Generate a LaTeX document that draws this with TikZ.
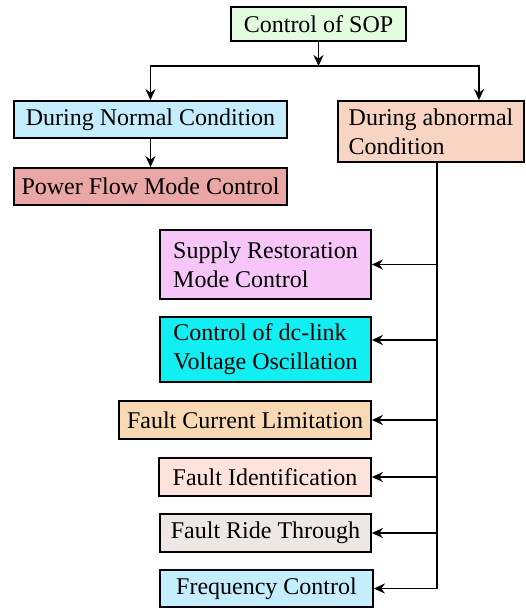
\documentclass[tikz,border=0pt]{standalone}
\usepackage{fontspec}
\setmainfont{Liberation Serif}
\usepackage{xcolor}
\usepackage{tikz}
\usetikzlibrary{positioning,calc,arrows.meta}

\definecolor{sopgreen}{HTML}{E3FCE0}
\definecolor{normalblue}{HTML}{C4EEFD}
\definecolor{flowred}{HTML}{EBA6A6}
\definecolor{abnpeach}{HTML}{F8D4C2}
\definecolor{supplypink}{HTML}{F5C6F7}
\definecolor{dccyan}{HTML}{12EFF2}
\definecolor{fclorange}{HTML}{F8D9B4}
\definecolor{fidpink}{HTML}{FEE3DC}
\definecolor{frtgrey}{HTML}{EEE7E5}

\begin{document}
\begin{tikzpicture}[x=1pt,y=-1pt,
    blk/.style={draw,line width=1.8pt,inner sep=0pt,font=\fontsize{24}{29}\selectfont},
    ar/.style={line width=1.8pt,-{Stealth[length=11pt,width=10pt]}}]
    \useasboundingbox (0,0) rectangle (525,608);

    % top level
    \node[blk,fill=sopgreen,minimum width=175pt,minimum height=34pt] (sop) at (318.5,24) {Control of SOP};
    \node[blk,fill=normalblue,minimum width=273pt,minimum height=37pt] (normal) at (150.5,119.5) {During Normal Condition};
    \node[blk,fill=flowred,minimum width=273pt,minimum height=37pt] (flow) at (150.5,186.5) {Power Flow Mode Control};
    \node[blk,fill=abnpeach,minimum width=186pt,minimum height=61pt,align=left] (abn) at (431,131.5) {During abnormal\\Condition};

    % abnormal branch
    \node[blk,fill=supplypink,minimum width=211pt,minimum height=69pt,align=left] (supply) at (265.5,264.5) {Supply Restoration\\Mode Control};
    \node[blk,fill=dccyan,minimum width=211pt,minimum height=65pt,align=left] (dclink) at (265.5,349.5) {Control of dc-link\\Voltage Oscillation};
    \node[blk,fill=fclorange,minimum width=252pt,minimum height=38pt] (fcl) at (245,420) {Fault Current Limitation};
    \node[blk,fill=fidpink,minimum width=212pt,minimum height=38pt] (fid) at (265,477) {Fault Identification};
    \node[blk,fill=frtgrey,minimum width=211pt,minimum height=38pt] (frt) at (265.5,533) {Fault Ride Through};
    \node[blk,fill=normalblue,minimum width=213pt,minimum height=37pt] (freq) at (266.5,588.5) {Frequency Control};

    \coordinate (split) at (318.5,66);
    \coordinate (trunk) at (437,0);
    \coordinate (dcin) at ([yshift=9.5pt]dclink.east);

    \draw[ar] (sop) -- (split);
    \draw[ar] (split) -| (normal.north);
    \draw[ar] (split) -| ([xshift=48pt]abn.north);
    \draw[ar] (normal) -- (flow);

    \draw[ar] (abn.south -| trunk) |- (freq.east);
    \draw[ar] (trunk |- supply.east) -- (supply.east);
    \draw[ar] (trunk |- dcin) -- (dcin);
    \draw[ar] (trunk |- fcl.east) -- (fcl.east);
    \draw[ar] (trunk |- fid.east) -- (fid.east);
    \draw[ar] (trunk |- frt.east) -- (frt.east);
\end{tikzpicture}
\end{document}
